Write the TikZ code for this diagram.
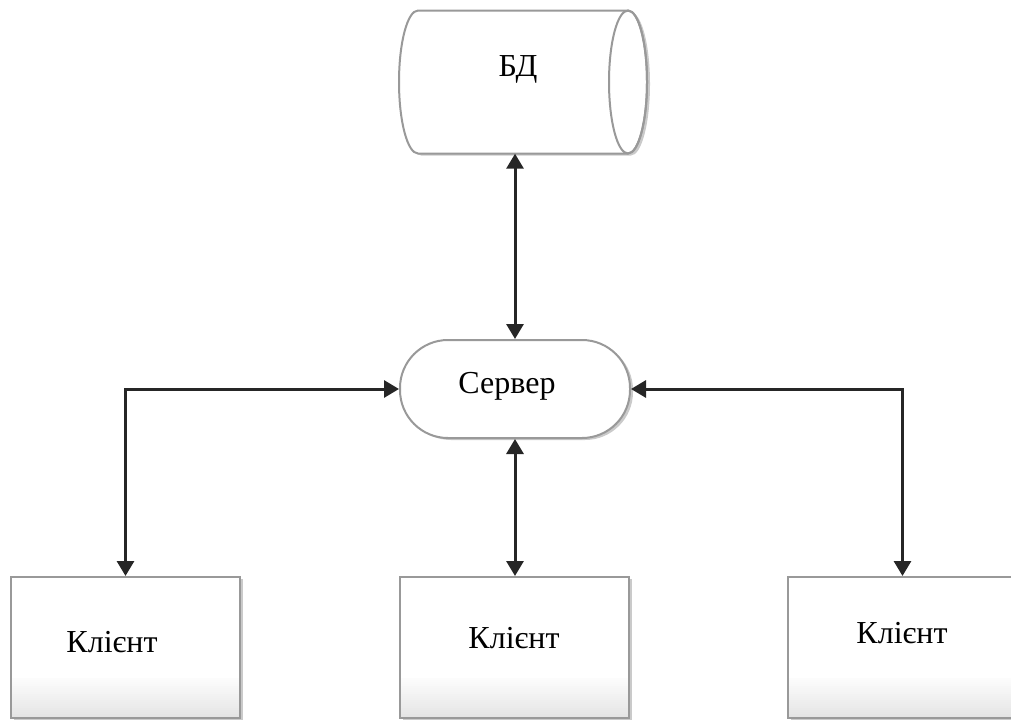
\documentclass[tikz,border=0pt]{standalone}
\usepackage{fontspec}
\setmainfont{Liberation Serif}
\usetikzlibrary{arrows.meta,shadows}
\begin{document}
\begin{tikzpicture}[x=1pt,y=-1pt,
  tip/.tip={Triangle[length=15pt,width=17pt]},
  conn/.style={line width=3pt, draw=black!85, tip-tip},
  outline/.style={draw=black!40, line width=2pt, fill=white},
  softshadow/.style={drop shadow={shadow xshift=3pt, shadow yshift=-2pt, fill=black!35, opacity=0.6}},
  % light grey fade along the lower part of a client box, in thin bands
  clientbox/.style={outline, softshadow, minimum width=229pt, minimum height=141pt, inner sep=0pt,
    path picture={
      \foreach \i [evaluate=\i as \p using 1+\i*0.5] in {0,...,19}{
        \fill[black!\p] ([yshift={(40-2*\i)*1pt}]path picture bounding box.south west)
          rectangle ([yshift={(38-2*\i)*1pt}]path picture bounding box.south east);
      }}},
  serverbox/.style={outline, softshadow, rounded corners=48pt, minimum width=230pt, minimum height=98pt, inner sep=0pt},
  lbl/.style={font=\fontsize{32}{36}\selectfont, anchor=base, inner sep=0pt}
]
\useasboundingbox (0,0) rectangle (1011,720);

% database cylinder
\node[minimum width=230pt, minimum height=143pt, inner sep=0pt] (db) at (523,82) {};
\filldraw[outline, softshadow] (628,10.5) -- (418,10.5)
  arc[start angle=90, end angle=270, x radius=19pt, y radius=71.5pt]
  -- (628,153.5)
  arc[start angle=-90, end angle=90, x radius=19pt, y radius=71.5pt] -- cycle;
\draw[draw=black!40, line width=2pt] (628,82) ellipse [x radius=19pt, y radius=71.5pt];
\node[lbl] (dbtext) at (518,76) {БД};

% server
\node[serverbox] (srv) at (515,389) {};
\node[lbl] (srvtext) at (507,393) {Сервер};

% clients
\node[clientbox] (c1) at (125.5,647.5) {};
\node[clientbox] (c2) at (514.5,647.5) {};
\node[clientbox] (c3) at (902.5,647.5) {};
\node[lbl] (c1text) at (112,652) {Клієнт};
\node[lbl] (c2text) at (514,648) {Клієнт};
\node[lbl] (c3text) at (902,643) {Клієнт};

% connectors
\draw[conn] (srv.north |- db.south) -- (srv.north);
\draw[conn] (srv.west) -| (c1.north);
\draw[conn] (srv.south) -- (srv.south |- c2.north);
\draw[conn] (srv.east) -| (c3.north);
\end{tikzpicture}
\end{document}
